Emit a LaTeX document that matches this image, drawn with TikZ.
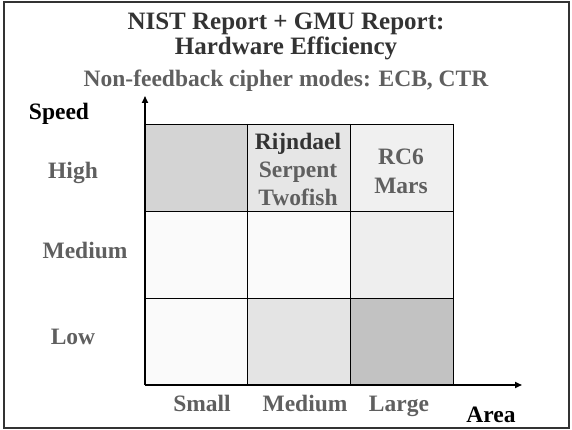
\documentclass[tikz,border=0pt]{standalone}
\usepackage{fontspec}
\setmainfont{Liberation Serif}
\usetikzlibrary{arrows.meta}
\definecolor{dk}{HTML}{333333}
\definecolor{gr}{HTML}{5F5F5F}
\definecolor{cA}{HTML}{D4D4D4}
\definecolor{cB}{HTML}{E6E6E6}
\definecolor{cC}{HTML}{F0F0F0}
\definecolor{cD}{HTML}{FAFAFA}
\definecolor{cE}{HTML}{EEEEEE}
\definecolor{cF}{HTML}{E4E4E4}
\definecolor{cG}{HTML}{C2C2C2}
\begin{document}
\begin{tikzpicture}[x=1pt,y=-1pt,
  cell/.style={draw=black,line width=0.9pt},
  lbl/.style={font=\fontsize{23.5}{26}\selectfont\bfseries,text=gr,inner sep=0pt,anchor=base},
  ttl/.style={font=\fontsize{25}{27}\selectfont\bfseries,text=dk,inner sep=0pt,anchor=base},
  ax/.style={line width=1.6pt,-{Triangle[length=7pt,width=6pt]}}]
\useasboundingbox (0,0) rectangle (572,430);
\draw[line width=1.5pt,draw=dk] (4,2) rectangle (569,428);
% cells
\fill[cA] (145,124) rectangle (247,211);
\fill[cB] (247,124) rectangle (350,211);
\fill[cC] (350,124) rectangle (453,211);
\fill[cD] (145,211) rectangle (247,298);
\fill[cD] (247,211) rectangle (350,298);
\fill[cE] (350,211) rectangle (453,298);
\fill[cD] (145,298) rectangle (247,385);
\fill[cF] (247,298) rectangle (350,385);
\fill[cG] (350,298) rectangle (453,385);
\foreach \x in {247,350,453} \draw[cell] (\x,124) -- (\x,385);
\foreach \y in {124,211,298} \draw[cell] (145,\y) -- (453,\y);
% axes
\coordinate (o) at (145,385);
\coordinate (yt) at (145,96);
\coordinate (xt) at (522,385);
\draw[ax] (o) -- (yt);
\draw[ax] (o) -- (xt);
% titles
\node[ttl] (t1) at (286,30) {NIST Report + GMU Report:};
\node[ttl] (t2) at (286,55) {Hardware Efficiency};
\node[lbl] (sub) at (286,87) {Non-feedback cipher modes: ECB, CTR};
% axis labels
\node[lbl,text=black] (speed) at (59,120) {Speed};
\node[lbl] (high) at (73,179) {High};
\node[lbl] (med) at (85,258) {Medium};
\node[lbl] (low) at (73,344) {Low};
\node[lbl] (small) at (202,411) {Small};
\node[lbl] (xmed) at (305,411) {Medium};
\node[lbl] (large) at (399,411) {Large};
\node[lbl,text=black] (area) at (491,422) {Area};
% cell texts
\node[lbl,text=dk] (rij) at (298,150) {Rijndael};
\node[lbl] (ser) at (298,178) {Serpent};
\node[lbl] (two) at (298,206) {Twofish};
\node[lbl] (rc6) at (401,165) {RC6};
\node[lbl] (mars) at (401,194) {Mars};
\end{tikzpicture}
\end{document}
